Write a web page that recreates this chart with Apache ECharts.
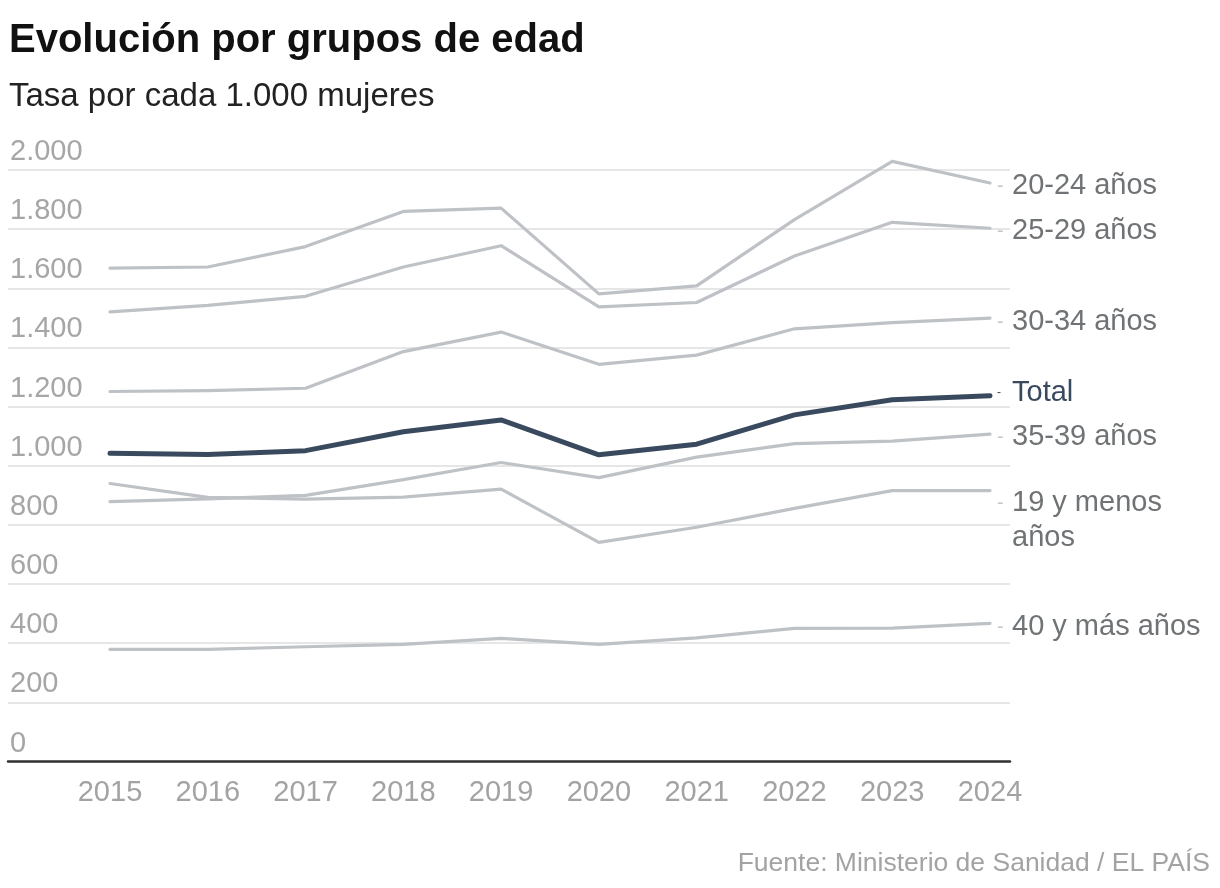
<!DOCTYPE html>
<html>
<head>
<meta charset="utf-8">
<script src="https://cdn.jsdelivr.net/npm/echarts@6/dist/echarts.min.js"></script>
<style>
html,body{margin:0;padding:0;background:#fff;}
#chart{width:1220px;height:888px;}
</style>
</head>
<body>
<div id="chart"></div>
<script>
// ---- data ----
const years = [2015, 2016, 2017, 2018, 2019, 2020, 2021, 2022, 2023, 2024];
const g20_24 = [1668, 1672, 1741, 1860, 1871, 1581, 1608, 1832, 2029, 1956];
const g25_29 = [1520, 1542, 1573, 1672, 1744, 1537, 1552, 1709, 1823, 1803];
const g30_34 = [1251, 1254, 1262, 1386, 1452, 1343, 1374, 1463, 1484, 1499];
const total  = [1042, 1038, 1051, 1115, 1155, 1037, 1073, 1172, 1223, 1237];
const g35_39 = [879, 888, 900, 953, 1011, 960, 1029, 1075, 1083, 1107];
const g19    = [940, 893, 887, 894, 921, 741, 792, 856, 916, 916];
const g40    = [379, 379, 388, 396, 416, 396, 418, 450, 451, 467];
const seriesNames = ['20-24 años', '25-29 años', '30-34 años', '35-39 años', '19 y menos\naños', '40 y más años', 'Total'];
const seriesValues = [g20_24, g25_29, g30_34, g35_39, g19, g40, total];

// ---- styling ----
const FONT = "'Liberation Sans', Arial, sans-serif";
const GRAY = '#bec2c6';
const DARK = '#3a4a5e';
const labelOffsets = [3, 3, 4, 3, 30, 4, -3];

function fmtThousands(v) {
  if (v >= 1000) {
    return Math.floor(v / 1000) + '.' + String(v % 1000).padStart(3, '0');
  }
  return String(v);
}

const series = seriesNames.map((name, i) => {
  const isTotal = name === 'Total';
  const lines = name.split('\n');
  const text = lines.map((ln, k) => (k === 0 ? '{d|-}' : '{sp|}') + '{t|' + ln + '}').join('\n');
  return {
    name: name,
    type: 'line',
    data: years.map((y, j) => [y, seriesValues[i][j]]),
    symbol: 'none',
    clip: false,
    z: isTotal ? 5 : 2,
    lineStyle: { color: isTotal ? DARK : GRAY, width: isTotal ? 5 : 3.2, cap: 'round', join: 'round' },
    endLabel: {
      show: true,
      formatter: () => text,
      distance: 7,
      offset: [0, labelOffsets[i]],
      rich: {
        d: {
          width: 15,
          fontFamily: FONT,
          fontSize: isTotal ? 12 : 20,
          lineHeight: 35,
          color: isTotal ? DARK : '#c4c7ca'
        },
        sp: { width: 15, lineHeight: 35 },
        t: {
          fontFamily: FONT,
          fontSize: 29,
          lineHeight: 35,
          color: isTotal ? DARK : '#707375'
        }
      }
    },
    emphasis: { disabled: true }
  };
});

const chart = echarts.init(document.getElementById('chart'), null, { renderer: 'canvas' });
chart.setOption({
  animation: false,
  backgroundColor: '#ffffff',
  title: [
    {
      text: 'Evolución por grupos de edad',
      left: 9, top: 21, padding: 0,
      textStyle: { fontFamily: FONT, fontWeight: 'bold', fontSize: 40, lineHeight: 40, color: '#111111' }
    },
    {
      text: 'Tasa por cada 1.000 mujeres',
      left: 9, top: 80, padding: 0,
      textStyle: { fontFamily: FONT, fontWeight: 'normal', fontSize: 33, lineHeight: 33, color: '#222222' }
    },
    {
      text: 'Fuente: Ministerio de Sanidad / EL PAÍS',
      right: 10, top: 851, padding: 0,
      textStyle: { fontFamily: FONT, fontWeight: 'normal', fontSize: 26.5, lineHeight: 26, color: '#a3a3a3' }
    }
  ],
  grid: { left: 8, right: 210, top: 170, bottom: 126.5, containLabel: false },
  xAxis: {
    type: 'value',
    min: 2015 - 102 / 97.78,
    max: 2024 + 20 / 97.78,
    axisLine: { show: true, onZero: false, lineStyle: { color: '#333333', width: 2.5 } },
    axisTick: { show: false },
    splitLine: { show: false },
    axisLabel: {
      customValues: years,
      formatter: (v) => String(Math.round(v)),
      fontFamily: FONT,
      fontSize: 29,
      lineHeight: 29,
      margin: 17,
      color: '#a3a3a3'
    }
  },
  yAxis: {
    type: 'value',
    min: 0,
    max: 2000,
    interval: 200,
    axisLine: { show: false },
    axisTick: { show: false },
    splitLine: { show: true, lineStyle: { color: '#e6e6e6', width: 2 } },
    axisLabel: {
      inside: true,
      margin: 2,
      verticalAlign: 'bottom',
      lineHeight: 36,
      fontFamily: FONT,
      fontSize: 29,
      color: '#a6a6a6',
      formatter: (v) => fmtThousands(v)
    }
  },
  series: series
});
</script>
</body>
</html>
